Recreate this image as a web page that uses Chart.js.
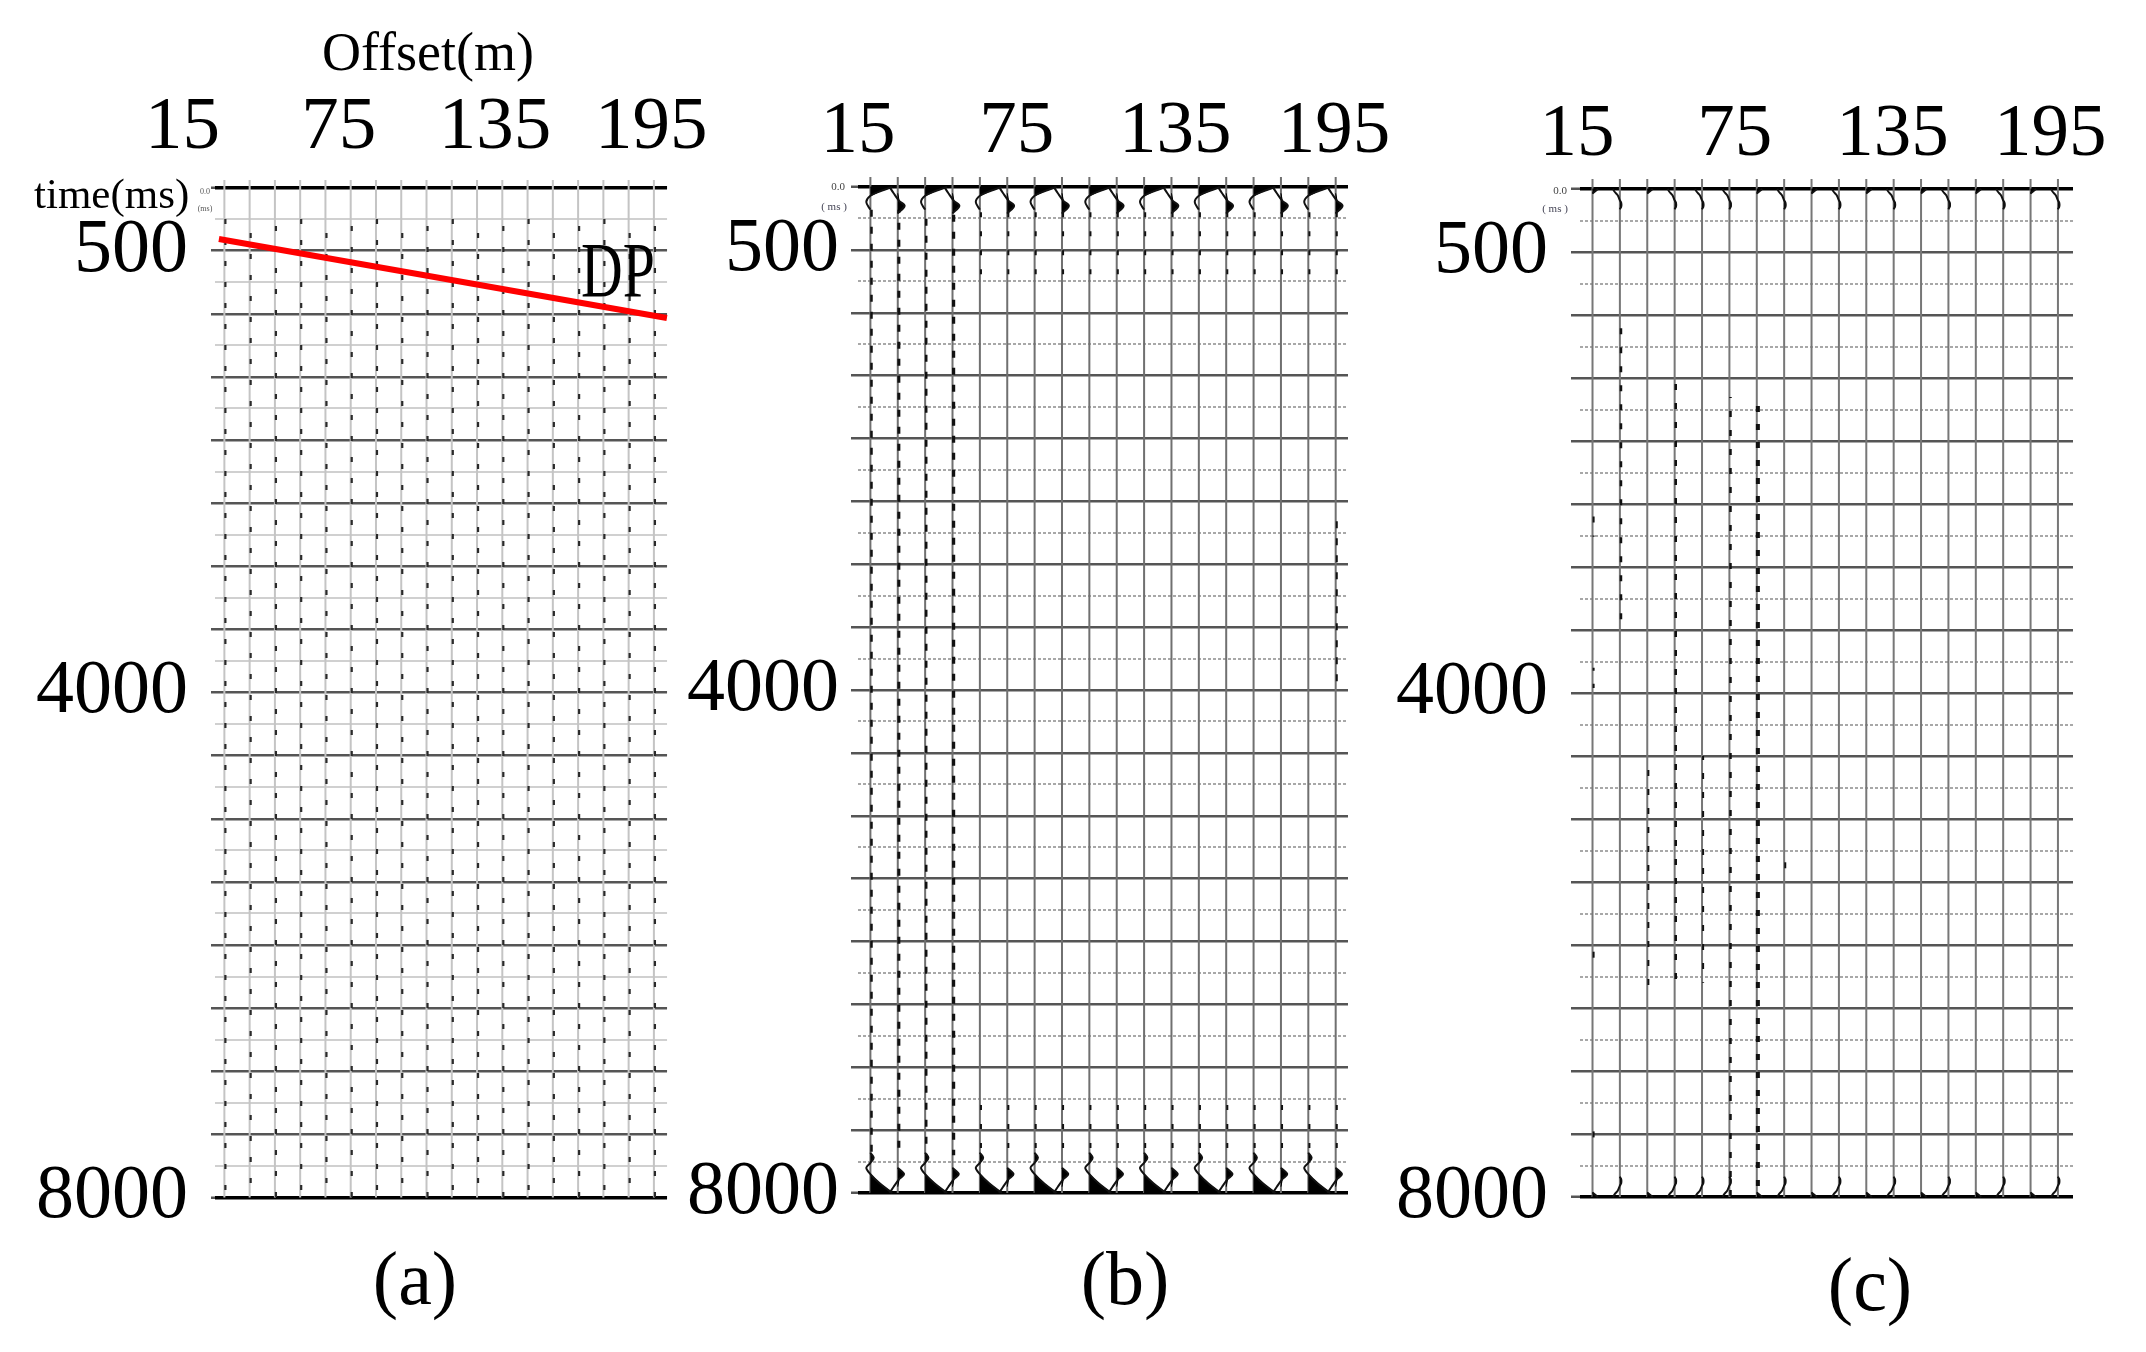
<!DOCTYPE html>
<html>
<head>
<meta charset="utf-8">
<script src="https://cdn.jsdelivr.net/npm/chart.js@4.4.1/dist/chart.umd.min.js"></script>
<style>
  html, body { margin: 0; padding: 0; background: #fff; }
  #wrap { position: relative; width: 2146px; height: 1352px; overflow: hidden; background: #fff; }
  #wrap canvas { position: absolute; top: 0; }
</style>
</head>
<body>
<div id="wrap">
  <canvas id="panelA" width="715" height="1352" style="left:0px"></canvas>
  <canvas id="panelB" width="735" height="1352" style="left:660px"></canvas>
  <canvas id="panelC" width="776" height="1352" style="left:1370px"></canvas>
</div>
<script>
// ---- shared axes ----
const traceNo = [1, 2, 3, 4, 5, 6, 7, 8, 9, 10, 11, 12, 13, 14, 15, 16, 17, 18];
const offsetTicks = [15, 75, 135, 195];          // m
const timeLabels = [500, 4000, 8000];            // ms
const timeMax = 8000;
const gridStep = 250;

// ---- (a) raw record: weak events on every trace + direct-wave pick ----
const aEventFrom = 250;
const aEventTo = 8000;
const dpOffset = [29, 201];
const dpTime = [408, 1034];

// ---- (b) edge wiggles (amplitude in trace spacings) ----
const bTopLTime = [0, 30, 70, 120, 180];
const bTopLAmp = [0.8, 0.4, 0, -0.15, 0];
const bTopRTime = [0, 50, 110, 150, 210];
const bTopRAmp = [-0.3, -0.15, 0.05, 0.25, 0];
const bBotLTime = [8000, 7925, 7850, 7800, 7760, 7720, 7680];
const bBotLAmp = [0.8, 0.35, 0, -0.15, 0, 0.12, 0];
const bBotRTime = [8000, 7950, 7890, 7850, 7800];
const bBotRAmp = [-0.3, -0.15, 0.05, 0.23, 0];
// (b) wiggle events
const bSpanTrace = [1, 2, 3, 4, 18];
const bSpanFrom = [180, 180, 180, 180, 2650];
const bSpanTo = [7700, 7700, 7700, 7700, 3950];
const bSpanWidth = [2.5, 3, 2.5, 3.2, 2];
const bShortFrom = [200, 7300];
const bShortTo = [700, 7750];

// ---- (c) edge wiggles ----
const cEdgeKind = [1, 0, 1, 0, 0, 0, 1, 0, 1, 0, 1, 0, 1, 0, 1, 0, 1, 0]; // 1 = lobe, 0 = hook
const cTopLobeTime = [0, 35];
const cTopLobeAmp = [0.2, 0];
const cTopHookTime = [0, 20, 50, 90, 110, 140, 160];
const cTopHookAmp = [-0.25, -0.2, -0.08, 0, 0.05, 0.05, 0];
const cBotLobeTime = [8000, 7965];
const cBotLobeAmp = [0.2, 0];
const cBotHookTime = [8000, 7980, 7950, 7910, 7890, 7860, 7840];
const cBotHookAmp = [-0.25, -0.2, -0.08, 0, 0.05, 0.05, 0];
// (c) wiggle events
const cSpanTrace = [1, 1, 1, 1, 2, 3, 4, 5, 6, 7, 8];
const cSpanFrom = [2600, 3800, 5950, 7400, 1050, 4580, 1540, 4500, 1650, 1650, 5280];
const cSpanTo = [2760, 3960, 6110, 7540, 3500, 6370, 6320, 6300, 8000, 8000, 5400];
const cSpanWidth = [2, 2, 2, 2, 2.5, 2, 2.5, 2, 2.5, 4, 2];

const SERIF = '"Liberation Serif", "DejaVu Serif", serif';

function line(data, color, width, extra) {
    return Object.assign({
        data: data,
        showLine: true,
        pointRadius: 0,
        borderColor: color,
        backgroundColor: color,
        borderWidth: width,
        fill: false,
        clip: false,
        tension: 0,
        xAxisID: 'x',
        yAxisID: 'y'
    }, extra || {});
}

function pts(tr, times, amps) {
    return times.map(function (t, i) { return { x: tr + amps[i], y: t }; });
}

// closed shapes of the positive (filled) half of a wiggle
function lobes(tr, times, amps) {
    const out = [];
    let i = 0;
    while (i < amps.length) {
        if (amps[i] > 0) {
            const start = i > 0 ? times[i - 1] : times[i];
            const run = [{ x: tr, y: start }];
            while (i < amps.length && amps[i] > 0) {
                run.push({ x: tr + amps[i], y: times[i] });
                i++;
            }
            run.push({ x: tr, y: i < amps.length ? times[i] : times[i - 1] });
            out.push(run);
        } else {
            i++;
        }
    }
    return out;
}

function edge(sets, tr, times, amps) {
    lobes(tr, times, amps).forEach(function (p) {
        sets.push(line(p, '#000', 1, { fill: 'shape' }));
    });
    sets.push(line(pts(tr, times, amps), '#111', 2, { tension: 0.35 }));
}

function span(sets, tr, from, to, width, dash, shift, color) {
    sets.push(line([{ x: tr + 0.04, y: from }, { x: tr + 0.04, y: to }], color || '#111', width,
        { borderDash: dash, borderDashOffset: shift || 0 }));
}

const textPlugin = {
    id: 'panelText',
    afterDraw: function (chart, args, opts) {
        const ctx = chart.ctx;
        (opts.items || []).forEach(function (it) {
            ctx.save();
            ctx.font = it.size + 'px ' + SERIF;
            ctx.fillStyle = it.color || '#000';
            ctx.textAlign = it.align || 'center';
            ctx.textBaseline = 'middle';
            ctx.translate(it.x, it.y);
            ctx.scale(it.sx || 1, 1);
            ctx.fillText(it.text, 0, 0);
            ctx.restore();
        });
    }
};

function makePanel(id, g, datasets, texts) {
    const isMajor = function (c) { return c.tick && c.tick.value % 500 === 0; };
    const isEdge = function (c) { return c.tick && (c.tick.value === 0 || c.tick.value === timeMax); };
    new Chart(document.getElementById(id), {
        type: 'scatter',
        data: { datasets: datasets.reverse() },
        plugins: [textPlugin],
        options: {
            responsive: false,
            animation: false,
            devicePixelRatio: 1,
            events: [],
            layout: { padding: { left: 0, top: 0, right: g.padRight, bottom: g.padBottom } },
            plugins: {
                legend: { display: false },
                tooltip: { enabled: false },
                panelText: { items: texts }
            },
            scales: {
                x: { type: 'linear', display: false, min: g.traceMin, max: g.traceMax },
                x2: {
                    type: 'linear',
                    position: 'top',
                    min: g.offMin,
                    max: g.offMax,
                    grid: { display: false },
                    border: { display: false },
                    afterBuildTicks: function (s) {
                        s.ticks = offsetTicks.map(function (v) { return { value: v }; });
                    },
                    afterFit: function (s) { s.height = g.top; },
                    ticks: {
                        autoSkip: false,
                        maxRotation: 0,
                        padding: g.xPad,
                        color: '#000',
                        font: { family: SERIF, size: 75 },
                        callback: function (v) { return String(v); }
                    }
                },
                y: {
                    type: 'linear',
                    reverse: true,
                    min: 0,
                    max: timeMax,
                    afterBuildTicks: function (s) {
                        const t = [];
                        for (let v = 0; v <= timeMax; v += gridStep) t.push({ value: v });
                        s.ticks = t;
                    },
                    afterFit: function (s) { s.width = g.left; },
                    grid: {
                        color: function (c) {
                            if (isEdge(c)) return '#000';
                            return isMajor(c) ? '#555' : g.minorColor;
                        },
                        lineWidth: function (c) {
                            if (isEdge(c)) return 3.5;
                            return isMajor(c) ? 2.5 : 2;
                        },
                        tickLength: g.tickLen,
                        tickColor: function (c) { return isMajor(c) ? '#555' : 'rgba(0,0,0,0)'; },
                        tickWidth: 2.5
                    },
                    border: {
                        display: false,
                        dash: function (c) { return isMajor(c) ? [] : g.minorDash; }
                    },
                    ticks: {
                        autoSkip: false,
                        padding: g.yPad,
                        color: '#000',
                        font: { family: SERIF, size: 76 },
                        callback: function (v) { return timeLabels.indexOf(v) >= 0 ? String(v) : ''; }
                    }
                }
            }
        }
    });
}

// ---------- panel (a) ----------
(function () {
    const sets = [];
    traceNo.forEach(function (tr) {
        sets.push(line([{ x: tr, y: -60 }, { x: tr, y: timeMax }], '#c4c4c4', 2));
    });
    traceNo.forEach(function (tr, i) {
        span(sets, tr, aEventFrom, aEventTo, 2.2, [5, 16], (i % 3) * 7, '#2a2a2a');
    });
    sets.push(line([{ x: dpOffset[0], y: dpTime[0] }, { x: dpOffset[1], y: dpTime[1] }],
        '#ff0000', 6, { xAxisID: 'x2' }));
    makePanel('panelA', {
        left: 215, top: 187.5, padRight: 42, padBottom: 154.5,
        traceMin: 0.629, traceMax: 18.52, offMin: 27.5, offMax: 201.05,
        xPad: 6, yPad: 23, tickLen: 4, minorColor: '#d0d0d0', minorDash: []
    }, sets, [
        { text: 'Offset(m)', x: 428, y: 56, size: 54 },
        { text: 'time(ms)', x: 34, y: 197, size: 43, align: 'left' },
        { text: 'DP', x: 618, y: 276, size: 78, sx: 0.74 },
        { text: '(a)', x: 415, y: 1284, size: 76 },
        { text: '0.0', x: 205, y: 192, size: 8, color: '#555' },
        { text: '(ms)', x: 205, y: 209, size: 8, color: '#555' }
    ]);
})();

// ---------- panel (b) ----------
(function () {
    const sets = [];
    traceNo.forEach(function (tr) {
        sets.push(line([{ x: tr, y: -80 }, { x: tr, y: timeMax }], '#707070', 2));
    });
    traceNo.forEach(function (tr) {
        if (bSpanTrace.indexOf(tr) >= 0 && bSpanFrom[bSpanTrace.indexOf(tr)] < 1000) return;
        bShortFrom.forEach(function (f, k) { span(sets, tr, f, bShortTo[k], 2, [5, 14], 0); });
    });
    bSpanTrace.forEach(function (tr, k) {
        span(sets, tr, bSpanFrom[k], bSpanTo[k], bSpanWidth[k], [7, 10], k * 4);
    });
    traceNo.forEach(function (tr) {
        if (tr % 2 === 1) {
            edge(sets, tr, bTopLTime, bTopLAmp);
            edge(sets, tr, bBotLTime, bBotLAmp);
        } else {
            edge(sets, tr, bTopRTime, bTopRAmp);
            edge(sets, tr, bBotRTime, bBotRAmp);
        }
    });
    makePanel('panelB', {
        left: 198, top: 187, padRight: 47, padBottom: 159,
        traceMin: 0.547, traceMax: 18.45, offMin: 15.0, offMax: 200.3,
        xPad: 2, yPad: 12, tickLen: 7, minorColor: '#a8a8a8', minorDash: [3, 2]
    }, sets, [
        { text: '(b)', x: 465, y: 1284, size: 76 },
        { text: '0.0', x: 178, y: 187, size: 11, color: '#444' },
        { text: '( ms )', x: 174, y: 207, size: 11, color: '#445' }
    ]);
})();

// ---------- panel (c) ----------
(function () {
    const sets = [];
    traceNo.forEach(function (tr) {
        sets.push(line([{ x: tr, y: -80 }, { x: tr, y: timeMax }], '#777', 2));
    });
    cSpanTrace.forEach(function (tr, k) {
        const heavy = cSpanWidth[k] > 3;
        span(sets, tr, cSpanFrom[k], cSpanTo[k], cSpanWidth[k], heavy ? [6, 12] : [6, 13], k * 3);
    });
    traceNo.forEach(function (tr, i) {
        if (cEdgeKind[i] === 1) {
            edge(sets, tr, cTopLobeTime, cTopLobeAmp);
            edge(sets, tr, cBotLobeTime, cBotLobeAmp);
        } else {
            edge(sets, tr, cTopHookTime, cTopHookAmp);
            edge(sets, tr, cBotHookTime, cBotHookAmp);
        }
    });
    makePanel('panelC', {
        left: 210, top: 189, padRight: 73, padBottom: 155,
        traceMin: 0.543, traceMax: 18.55, offMin: 16.14, offMax: 203.7,
        xPad: 1, yPad: 23, tickLen: 9, minorColor: '#a8a8a8', minorDash: [3, 2]
    }, sets, [
        { text: '(c)', x: 500, y: 1290, size: 76 },
        { text: '0.0', x: 190, y: 191, size: 11, color: '#444' },
        { text: '( ms )', x: 185, y: 209, size: 11, color: '#445' }
    ]);
})();
</script>
</body>
</html>
